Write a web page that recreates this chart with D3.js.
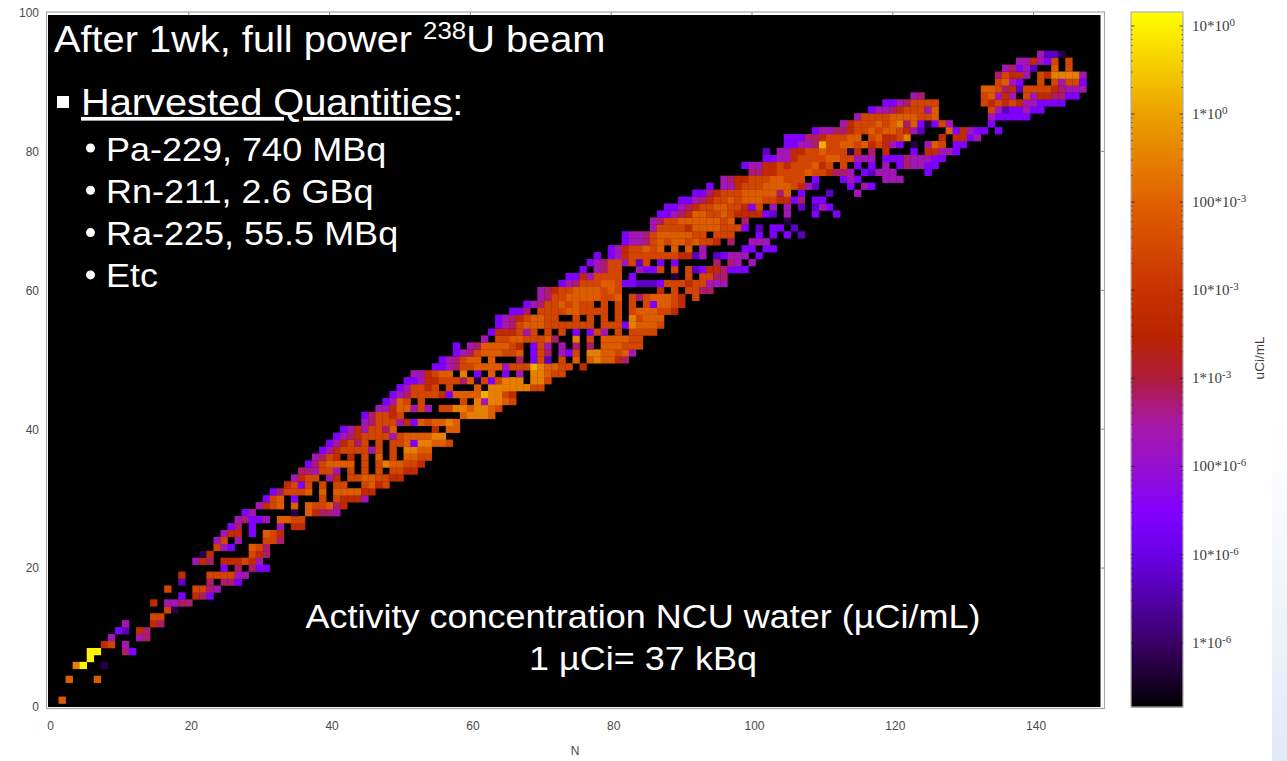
<!DOCTYPE html>
<html>
<head>
<meta charset="utf-8">
<script src="https://cdn.jsdelivr.net/npm/d3@7"></script>
<style>
  html, body { margin: 0; padding: 0; background: #fff; overflow: hidden; }
  text { font-family: "Liberation Sans", Arial, sans-serif; }
</style>
</head>
<body>
<div id="chart"></div>
<script>
// Activity codes used in the rows below, and what each one is in uCi/mL
const levelCodes = ["p", "q", "v", "m", "c", "r", "o", "d", "a", "g", "y"];
const levelValues = [6e-7, 5e-6, 3e-5, 2.2e-4, 6e-4, 5e-3, 2.6e-2, 8e-2, 3e-1, 1.5, 11];

// One row per proton number Z: first N of the row, then one code per N ("." = nothing)
const rowZ = [1, 4, 6, 7, 8, 9, 10, 11, 12, 13, 14, 15, 16, 17, 18, 19, 20, 21, 22, 23, 24, 25, 26, 27, 28, 29, 30,
  31, 32, 33, 34, 35, 36, 37, 38, 39, 40, 41, 42, 43, 44, 45, 46, 47, 48, 49, 50, 51, 52, 53, 54, 55, 56, 57, 58, 59, 60,
  61, 62, 63, 64, 65, 66, 67, 68, 69, 70, 71, 72, 73, 74, 75, 76, 77, 78, 79, 80, 81, 82, 83, 84, 85, 86, 87, 88, 89, 90,
  91, 92, 93, 94];
const rowStartN = [2, 3, 4, 6, 6, 8, 9, 10, 11, 15, 17, 15, 19, 17, 19, 19, 25, 21, 22, 24, 24, 25, 26, 27, 28, 30, 31,
  32, 34, 35, 36, 37, 38, 39, 40, 41, 42, 45, 45, 47, 48, 49, 50, 51, 52, 55, 56, 58, 58, 62, 63, 64, 64, 66, 68, 70, 70,
  73, 74, 76, 77, 78, 80, 82, 82, 86, 86, 87, 88, 90, 92, 94, 96, 100, 99, 102, 102, 105, 105, 109, 113, 115, 117, 119, 123, 133, 135,
  135, 136, 138, 141];
const rowCells = [
  "d", "d...d", "ay..p", "y", "yy...cv", "ro.m", "m...mc", "vq.rc", "m...rc", "oo", "op", "r.mmcc", "v.rcv",
  "o...oocm", "q...c.ccv", "r...oooomm", "v.c.cvv", "mrc.rrrorm", "pr.....orc", "omv..doc", "mo.m...ooc",
  "mrr.v.dor", "vc.v...m.rr", "mcvvm.ddoo", "vm.....p.drccm", "mrod.d.doodcr", "vod.v...o.orrrm",
  "vcoood.d.ddddrr", "rovo.o.oo..odro", "mroo.mr.ooddoorr", "ccmoom.o.o.o.oorr", "vcodddd.o.oaddoor",
  "mcor.r.o.d.o.ddoo", "vmroooomo.o.aadd", "vmroco.o.oodvaaddo", "vmcroooomoddddaa", "vmrmoocd.....r.dd",
  "mcooomrvdoddad", "vcooro........daaad", "mmrddmom.ooaadaado", "vmdo.o.....o.amaado", "vmcoooorvddddgaaor",
  "vmooro.o...d.aaaaaaoo", "vvmrrooocdpovoaaa.aao", "mmrodd.a.v.d.v.m.aadoo", "vvmcooddddmooogaddoo.r",
  "vmcodd.d...c.voq.o.d.daddrc", "vmcodddood.voc.mvo.aaddodm", "v.mcddddor.vom.m.c.c.dddooo",
  "m.ooddooodc..a.o.ddddoo", "vrrromo.o.o.v.vom.o.oooo", "vmcodddooooooo.ooovadddo",
  "vmcroddoo..o.o.o.o.aoddd", "vvc.ooooddoooo.o.odddoor", "vmcoododoo.o.o.o.ovddor", "mcoodddddood.ocodddor.o",
  "mcrooddddodo.....r.o.oocc", "vmcoooddovvqqqvoooroommm", "vvrmoooo.v.....p.o.oocc", "v.mcoo..mvvo.o.oqvrrcvvv",
  "vmcoomoqo.v.v.....c.cm.m", "v.vmrooooooorrqm.qvmmm.v", "vmroodod.d.d.m.....vv.vv", "vmmcododdodoor.c..mmm",
  "vmmcodddddoo.ooo...v.v.v.q", "moooorddddooov.q.vv.q", "mcooddddddod.c.....p", "vvmcrddoodorrrrvq.m...v..v",
  "vvmcrooddoorvo.m.m.q.qmv", "vvmcroododddoorrvc.vv", "vvcrooodddddcd.v...q...m", "v.mmroooddddormq....v.mv",
  "mcrroooddooo.v...vmv...mmm", "ccrroooodoorccm.vqmmm....v", "vmmrrorooodro.o.v.v.m.vcmmvv",
  "vvmmrooooddoommm.vvvcmmmvv", "q.mmrroodooopr.c.r...v.rrmmv", "vvmmcgooddodrormv.p.mdo.vv",
  "vvvccrooodd.odrroa....r.rrvm", "vmmccroododdormq...dvrmvv.v", "mrooododacdvpvom.....v",
  "mooooddddood.......mvvvvv", "vmmcrooomd.......omqvvmvv", "vvmcoooo......ororormmvvvv",
  "mc........odmrm.omrrccvv", "ddocrqoooorcmmm", "odmv..o.omoov", "corrm.oraaaam", "mcvmq..d.o", "mmrmvo.o", "mqqp"
];

// Tick labels
const xTicks = [0, 20, 40, 60, 80, 100, 120, 140];
const yTicks = [0, 20, 40, 60, 80, 100];
const barTickValues = [10, 1, 0.1, 0.01, 0.001, 1e-4, 1e-5, 1e-6];
const barTickMantissa = ["10", "1", "100", "10", "1", "100", "10", "1"];
const barTickExponent = ["0", "0", "-3", "-3", "-3", "-6", "-6", "-6"];

// Colour bar stops
const stopValues = [1.86e-7, 1e-6, 1e-5, 3e-5, 1e-4, 3e-4, 1e-3, 3e-3, 1e-2, 1e-1, 1, 14.4];
const stopColors = ["#000000", "#3a0066", "#6a00e8", "#8000ff", "#9410d0", "#a818a8", "#ae1c3c",
  "#b82400", "#c83200", "#e06000", "#eca000", "#ffff00"];

const bulletLines = ["Pa-229, 740 MBq", "Rn-211, 2.6 GBq", "Ra-225, 55.5 MBq", "Etc"];

const svg = d3.select("#chart").append("svg").attr("width", 1287).attr("height", 761);

// pale slide background showing at the right edge
const defs = svg.append("defs");
const slideGrad = defs.append("linearGradient").attr("id", "slide").attr("x1", 0).attr("y1", 0).attr("x2", 0).attr("y2", 1);
slideGrad.append("stop").attr("offset", 0).attr("stop-color", "#ffffff");
slideGrad.append("stop").attr("offset", 1).attr("stop-color", "#e2e9f6");
svg.append("rect").attr("x", 1272).attr("y", 420).attr("width", 15).attr("height", 341).attr("fill", "url(#slide)");
defs.append("filter").attr("id", "soft").append("feGaussianBlur").attr("stdDeviation", 0.55);

const x = d3.scaleLinear().domain([0, 150]).range([48, 1104]);
const y = d3.scaleLinear().domain([0, 100]).range([707, 12.5]);
const color = d3.scaleLog().domain(stopValues).range(stopColors).clamp(true);
const valueOf = d3.scaleOrdinal().domain(levelCodes).range(levelValues);

// flatten the rows into cells
const cells = [];
rowCells.forEach((codes, i) => {
  codes.split("").forEach((code, k) => {
    if (code !== ".") cells.push({ n: rowStartN[i] + k, z: rowZ[i], value: valueOf(code) });
  });
});

// plot frame + black background
svg.append("rect").attr("x", 46.5).attr("y", 12).attr("width", 1058).attr("height", 696.5)
  .attr("fill", "#fff").attr("stroke", "#a8a8a8").attr("stroke-width", 1.2);
svg.append("rect").attr("x", 48).attr("y", 15).attr("width", 1052.5).attr("height", 692).attr("fill", "#000");

const cellW = x(1) - x(0);
const cellH = y(0) - y(1);
svg.append("g").attr("filter", "url(#soft)").selectAll("rect").data(cells).join("rect")
  .attr("x", d => x(d.n) - cellW / 2)
  .attr("y", d => y(d.z) - cellH / 2)
  .attr("width", cellW + 0.3)
  .attr("height", cellH + 0.3)
  .attr("fill", d => color(d.value));

// axes
const xAxis = svg.append("g").attr("transform", "translate(0,707)")
  .call(d3.axisBottom(x).tickValues(xTicks).tickSize(0).tickPadding(14));
const yAxis = svg.append("g").attr("transform", "translate(48,0)")
  .call(d3.axisLeft(y).tickValues(yTicks).tickSize(0).tickPadding(9));
[xAxis, yAxis].forEach(a => {
  a.select(".domain").remove();
  a.selectAll("text").attr("fill", "#4a4a4a").style("font-size", "12px");
});
xAxis.selectAll("text").attr("dx", 2);

// small ticks on the top and right bands
svg.append("g").selectAll("line").data(xTicks.slice(1)).join("line")
  .attr("x1", d => x(d)).attr("x2", d => x(d)).attr("y1", 12).attr("y2", 15).attr("stroke", "#888");
svg.append("g").selectAll("line").data(yTicks.slice(1, -1)).join("line")
  .attr("x1", 1100.5).attr("x2", 1104).attr("y1", d => y(d)).attr("y2", d => y(d)).attr("stroke", "#888");

svg.append("text").attr("x", 575).attr("y", 755).attr("text-anchor", "middle")
  .attr("fill", "#4a4a4a").style("font-size", "12px").text("N");

// colour bar
const barY = d3.scaleLog().domain([1.86e-7, 14.4]).range([707, 12]);
const barX0 = 1131, barX1 = 1183;
const barSteps = d3.range(0, 695, 1);
svg.append("g").selectAll("rect").data(barSteps).join("rect")
  .attr("x", barX0).attr("width", barX1 - barX0)
  .attr("y", d => 12 + d).attr("height", 1.4)
  .attr("fill", d => color(barY.invert(12 + d)));
svg.append("rect").attr("x", barX0).attr("y", 12).attr("width", barX1 - barX0).attr("height", 695)
  .attr("fill", "none").attr("stroke", "#b0b0b0").attr("stroke-width", 1.2);

const minorTicks = [];
barTickValues.forEach(v => { [2, 3, 4, 5, 6, 7, 8, 9].forEach(m => { if (v * m < 14) minorTicks.push(v * m); }); });
[barX0, barX1].forEach((bx, side) => {
  const dir = side ? -1 : 1;
  svg.append("g").selectAll("line").data(minorTicks).join("line")
    .attr("x1", bx).attr("x2", bx + dir * 1.5)
    .attr("y1", d => barY(d)).attr("y2", d => barY(d)).attr("stroke", "#333").attr("stroke-width", 0.7);
  svg.append("g").selectAll("line").data(barTickValues).join("line")
    .attr("x1", bx).attr("x2", bx + dir * 3.5)
    .attr("y1", d => barY(d)).attr("y2", d => barY(d)).attr("stroke", "#222").attr("stroke-width", 0.8);
});

const barLabels = svg.append("g").selectAll("text").data(barTickValues).join("text")
  .attr("x", 1192).attr("y", d => barY(d) + 5)
  .attr("fill", "#3c3c3c")
  .style("font-family", "'Liberation Serif', serif").style("font-size", "15px");
barLabels.append("tspan").text((d, i) => barTickMantissa[i] + "*10");
barLabels.append("tspan").attr("dy", -5).style("font-size", "11px").text((d, i) => barTickExponent[i]);

svg.append("text").attr("transform", "translate(1264,358) rotate(-90)").attr("text-anchor", "middle")
  .attr("fill", "#3c3c3c").style("font-size", "13.5px").text("uCi/mL");

// slide text laid over the plot, a bit wider than the font's natural width like the slide
const stretch = (px, py) => `translate(${px},${py}) scale(1.075,1)`;

const title = svg.append("text").attr("transform", stretch(54, 52)).attr("fill", "#fff").style("font-size", "37px");
title.append("tspan").text("After 1wk, full power ");
title.append("tspan").attr("dy", -13).style("font-size", "24px").text("238");
title.append("tspan").attr("dy", 13).text("U beam");

svg.append("rect").attr("x", 57).attr("y", 96).attr("width", 12).attr("height", 12).attr("fill", "#fff");
const harvested = svg.append("text").attr("transform", stretch(81, 115)).attr("fill", "#fff").style("font-size", "37px");
harvested.append("tspan").style("text-decoration", "underline").text("Harvested Quantities");
harvested.append("tspan").text(":");

svg.append("g").selectAll("circle").data(bulletLines).join("circle")
  .attr("cx", 90.5).attr("cy", (d, i) => 148 + i * 42.3).attr("r", 4.5).attr("fill", "#fff");
svg.append("g").selectAll("text").data(bulletLines).join("text")
  .attr("transform", (d, i) => stretch(106, 160.5 + i * 42.3)).attr("fill", "#fff").style("font-size", "33.5px").text(d => d);

svg.append("text").attr("transform", stretch(643, 628)).attr("text-anchor", "middle").attr("fill", "#fff")
  .style("font-size", "33.5px").text("Activity concentration NCU water (µCi/mL)");
svg.append("text").attr("transform", stretch(643, 670)).attr("text-anchor", "middle").attr("fill", "#fff")
  .style("font-size", "33.5px").text("1 µCi= 37 kBq");
</script>
</body>
</html>
